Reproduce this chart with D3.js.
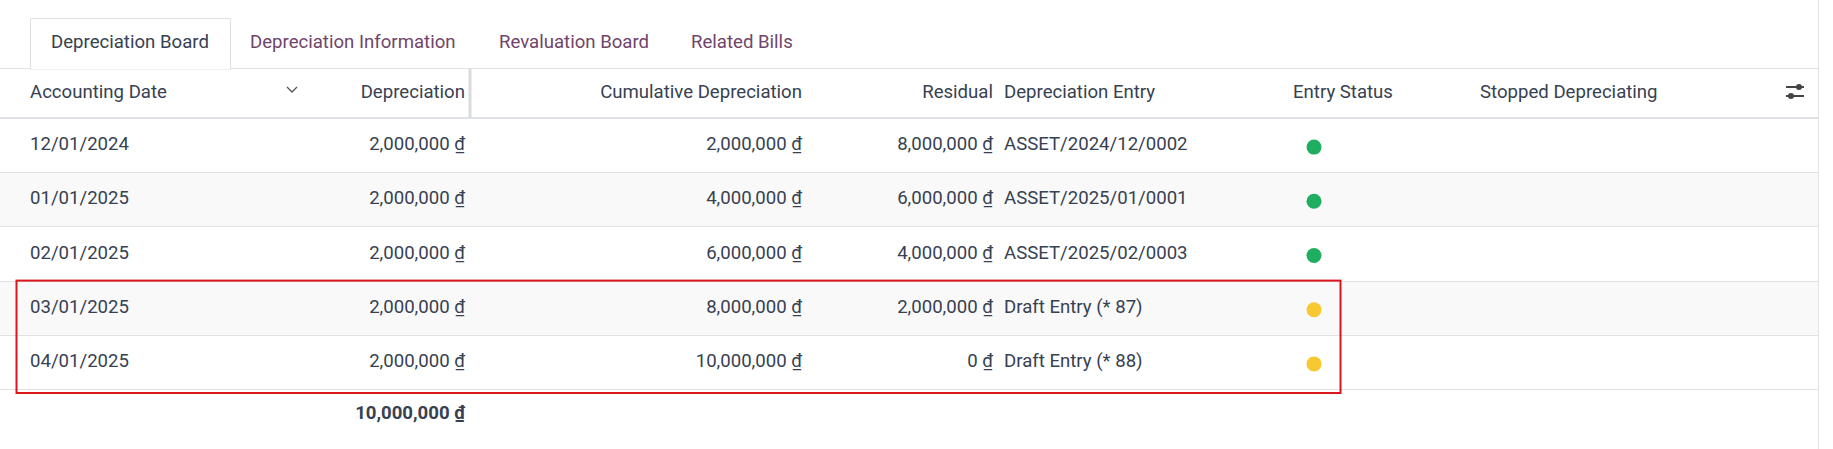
<!DOCTYPE html>
<html><head><meta charset="utf-8">
<script src="https://cdn.jsdelivr.net/npm/d3@7"></script>
<style>body{margin:0;background:#fff}svg{display:block;font-family:Roboto,sans-serif}</style>
</head><body>
<script>
const tabs = ["Depreciation Board","Depreciation Information","Revaluation Board","Related Bills"];
const columns = ["Accounting Date","Depreciation","Cumulative Depreciation","Residual","Depreciation Entry","Entry Status","Stopped Depreciating"];
const dates = ["12/01/2024","01/01/2025","02/01/2025","03/01/2025","04/01/2025"];
const depreciation = [2000000,2000000,2000000,2000000,2000000];
const cumulative = [2000000,4000000,6000000,8000000,10000000];
const residual = [8000000,6000000,4000000,2000000,0];
const entries = ["ASSET/2024/12/0002","ASSET/2025/01/0001","ASSET/2025/02/0003","Draft Entry (* 87)","Draft Entry (* 88)"];
const status = ["posted","posted","posted","draft","draft"];
const total = 10000000;

const W=1833,H=449;
const svg=d3.select("body").append("svg").attr("width",W).attr("height",H);
const fmt=d3.format(",");
const txt="#374151", purple="#71456a", line="#dee2e6";
const fs=18.6;

const tabX=d3.scaleOrdinal().domain(tabs).range([51,250,499,691]);
svg.append("line").attr("x1",0).attr("x2",1818).attr("y1",68.5).attr("y2",68.5).attr("stroke",line);
svg.append("rect").attr("x",30.5).attr("y",18.5).attr("width",200).attr("height",51).attr("fill","#fff").attr("stroke",line);
svg.append("line").attr("x1",31).attr("x2",230).attr("y1",68.5).attr("y2",68.5).attr("stroke","#fff").attr("stroke-width",2);
svg.selectAll(".tab").data(tabs).join("text").attr("x",d=>tabX(d)).attr("y",48)
  .attr("font-size",fs).attr("fill",(d,i)=>i==0?txt:purple).text(d=>d);

const y=d3.scaleBand().domain(d3.range(dates.length)).range([118,389]);
svg.selectAll(".bg").data(dates).join("rect").attr("x",0).attr("width",1818)
  .attr("y",(d,i)=>y(i)).attr("height",y.bandwidth()).attr("fill",(d,i)=>i%2?"#f9f9f9":"#fff");
svg.selectAll(".rl").data(d3.range(dates.length+1)).join("line").attr("x1",0).attr("x2",1818)
  .attr("y1",i=>Math.round(y(0)+i*y.bandwidth())+.5).attr("y2",i=>Math.round(y(0)+i*y.bandwidth())+.5).attr("stroke",line);
svg.append("line").attr("x1",0).attr("x2",1818).attr("y1",118).attr("y2",118).attr("stroke",line).attr("stroke-width",2);
svg.append("line").attr("x1",470).attr("x2",470).attr("y1",69).attr("y2",118).attr("stroke","#d8dadd").attr("stroke-width",3);
svg.append("line").attr("x1",1818.5).attr("x2",1818.5).attr("y1",0).attr("y2",H).attr("stroke","#e2e2e2");

const colX={"Accounting Date":[30,"start"],"Depreciation":[465,"end"],"Cumulative Depreciation":[802,"end"],
 "Residual":[993,"end"],"Depreciation Entry":[1004,"start"],"Entry Status":[1293,"start"],"Stopped Depreciating":[1480,"start"]};
svg.selectAll(".hd").data(columns).join("text").attr("x",d=>colX[d][0]).attr("text-anchor",d=>colX[d][1])
  .attr("y",98).attr("font-size",fs).attr("fill",txt).text(d=>d);
svg.append("path").attr("d","M287,87 l5,5 l5,-5").attr("fill","none").attr("stroke","#555").attr("stroke-width",1.3);
const ic=svg.append("g").attr("stroke","#444").attr("stroke-width",2);
ic.append("line").attr("x1",1786).attr("x2",1804).attr("y1",87).attr("y2",87);
ic.append("line").attr("x1",1786).attr("x2",1804).attr("y1",96).attr("y2",96);
svg.append("circle").attr("cx",1799).attr("cy",87).attr("r",3).attr("fill","#444");
svg.append("circle").attr("cx",1791).attr("cy",96).attr("r",3).attr("fill","#444");

function money(g,x,vals){
  g.each(function(d,i){
    const t=d3.select(this).append("text").attr("x",x).attr("y",y(i)+y.bandwidth()/2+5).attr("text-anchor","end")
      .attr("font-size",fs).attr("fill",txt);
    t.append("tspan").text(fmt(vals[i])+" ");
    t.append("tspan").attr("text-decoration","underline").text("₫");
  });
}
const rows=svg.selectAll(".row").data(dates).join("g");
rows.append("text").attr("x",30).attr("y",(d,i)=>y(i)+y.bandwidth()/2+5).attr("font-size",fs).attr("fill",txt).text(d=>d);
money(rows,465,depreciation);
money(rows,802,cumulative);
money(rows,993,residual);
rows.append("text").attr("x",1004).attr("y",(d,i)=>y(i)+y.bandwidth()/2+5).attr("font-size",fs).attr("fill",txt).text((d,i)=>entries[i]);
rows.append("circle").attr("cx",1314).attr("cy",(d,i)=>y(i)+y.bandwidth()/2+2).attr("r",7.5)
  .attr("fill",(d,i)=>status[i]=="posted"?"#1fad5f":"#f7c830");

const ft=svg.append("text").attr("x",465).attr("y",419).attr("text-anchor","end").attr("font-size",fs).attr("font-weight",700).attr("fill",txt);
ft.append("tspan").text(fmt(total)+" ");ft.append("tspan").attr("text-decoration","underline").text("₫");

svg.append("rect").attr("x",16.5).attr("y",y(3)).attr("width",1324).attr("height",y(4)+y.bandwidth()-y(3)+4)
  .attr("fill","none").attr("stroke","#d9161c").attr("stroke-width",2);
</script>
</body></html>
